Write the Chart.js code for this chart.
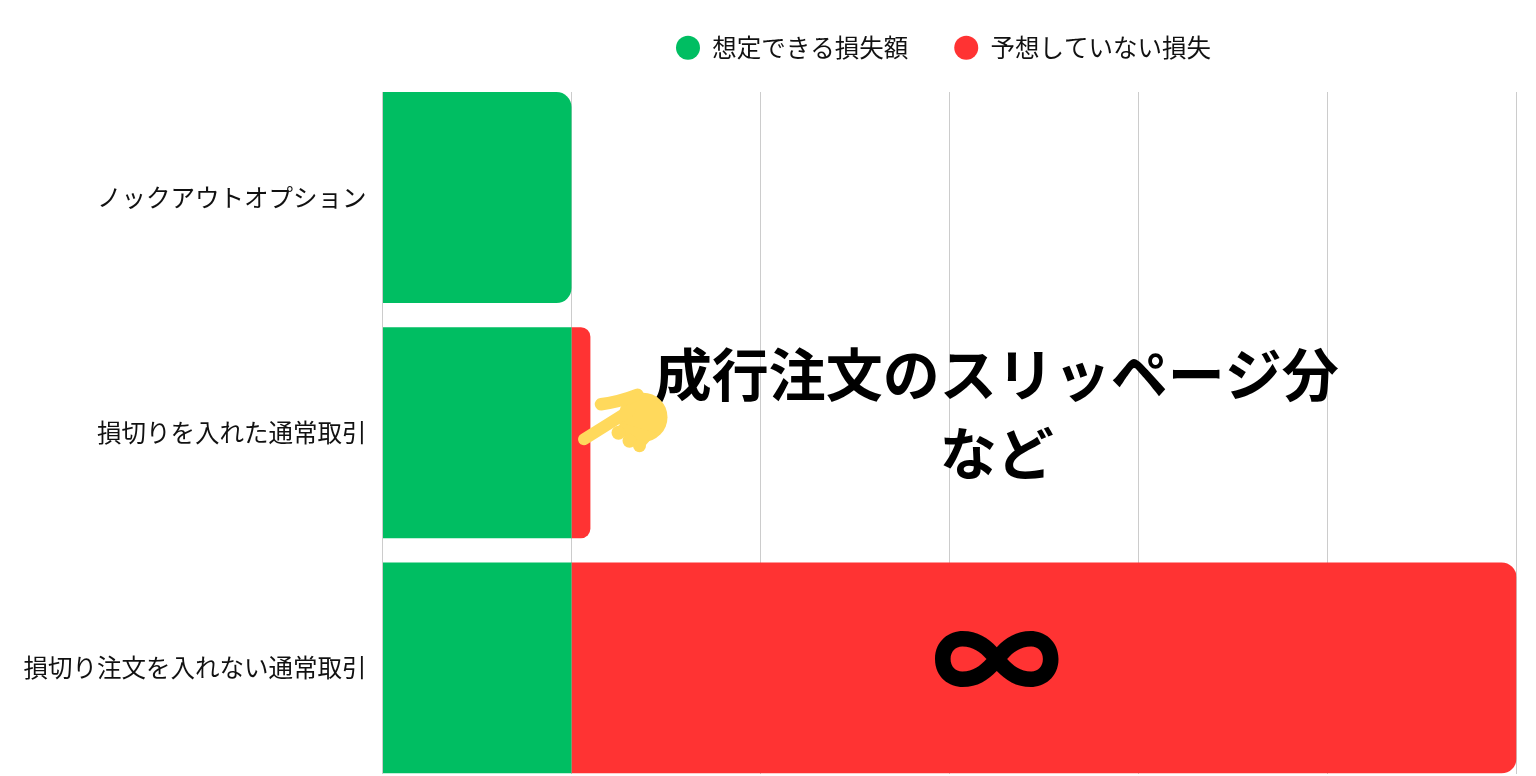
<!DOCTYPE html>
<html lang="ja"><head><meta charset="utf-8">
<style>html,body{margin:0;padding:0;background:#fff}canvas{display:block}</style>
<script src="https://cdn.jsdelivr.net/npm/chart.js@4"></script>
</head><body><canvas id="c" width="1536" height="776"></canvas>
<script>
const categories = ['ノックアウトオプション','損切りを入れた通常取引','損切り注文を入れない通常取引'];
const rows = [0,1,2];
const expectedLoss = [1,1,1];
const unexpectedLoss = [0,0.1,5];
const seriesNames = ['想定できる損失額','予想していない損失'];
const noteLines = ['成行注文のスリッページ分','など'];
const infinityLabel = '∞';
const GREEN = '#00BE62', RED = '#FF3333', FONT = '"Noto Sans CJK JP","Noto Sans CJK SC",sans-serif';
const R = 15;
const right = {topLeft:0,bottomLeft:0,topRight:R,bottomRight:R};
const square = {topLeft:0,bottomLeft:0,topRight:0,bottomRight:0};

const overlay = {
  id:'overlay',
  afterLayout(chart){ const l=chart.legend; l.top = -10.5; l.left -= 6; l.right -= 6; },
  afterDatasetsDraw(chart){
    const {ctx,scales:{x,y}} = chart;
    ctx.save();
    ctx.fillStyle='#000'; ctx.textAlign='center'; ctx.textBaseline='middle';
    ctx.font='700 57px '+FONT;
    ctx.fillText(noteLines[0],x.getPixelForValue(3.25),y.getPixelForValue(0.751));
    ctx.fillText(noteLines[1],x.getPixelForValue(3.25),y.getPixelForValue(1.087));
    ctx.font='900 130px '+FONT;
    ctx.textBaseline='alphabetic';
    const m = ctx.measureText(infinityLabel);
    const cy = y.getPixelForValue(1.964);
    ctx.fillText(infinityLabel,x.getPixelForValue(3.25),cy+(m.actualBoundingBoxAscent-m.actualBoundingBoxDescent)/2);
    // pointing hand, anchored to the tip of the small red bar
    const ox = x.getPixelForValue(1), oy = y.getPixelForValue(1);
    const px = dx=>ox+dx, py = dy=>oy+dy;
    ctx.fillStyle=ctx.strokeStyle='#FFD95C'; ctx.lineCap='round';
    ctx.beginPath(); ctx.arc(px(71.5),py(-15.5),24.5,0,Math.PI*2); ctx.fill();
    ctx.beginPath(); ctx.moveTo(px(50),py(-10)); ctx.lineTo(px(85),py(0)); ctx.lineTo(px(72),py(15)); ctx.lineTo(px(60),py(10)); ctx.lineTo(px(44),py(-4)); ctx.closePath(); ctx.fill();
    ctx.lineWidth=12.5;
    ctx.beginPath(); ctx.moveTo(px(29.5),py(-28.5)); ctx.quadraticCurveTo(px(48),py(-31),px(66),py(-38)); ctx.stroke();
    ctx.lineWidth=12;
    ctx.beginPath(); ctx.moveTo(px(12.5),py(6.5)); ctx.lineTo(px(58),py(-22)); ctx.stroke();
    [[47,0,7],[58,8,7],[68,13,6.5]].forEach(([dx,dy,r])=>{ctx.beginPath();ctx.arc(px(dx),py(dy),r,0,Math.PI*2);ctx.fill();});
    ctx.restore();
  }
};

new Chart(document.getElementById('c'),{
  type:'bar',
  data:{datasets:[
    {label:seriesNames[0],data:rows.map(i=>({x:expectedLoss[i],y:i})),backgroundColor:GREEN,
     borderRadius:c=>unexpectedLoss[c.dataIndex]===0?right:square,borderSkipped:false,inflateAmount:0,barThickness:211},
    {label:seriesNames[1],data:rows.map(i=>({x:unexpectedLoss[i],y:i})),backgroundColor:RED,
     borderRadius:right,borderSkipped:false,inflateAmount:0,barThickness:211}
  ]},
  options:{
    indexAxis:'y',responsive:false,animation:false,
    layout:{padding:{left:0,right:19.5,top:11.5,bottom:2.5}},
    plugins:{
      tooltip:{enabled:false},
      legend:{position:'top',align:'center',fullSize:false,
        labels:{usePointStyle:true,pointStyle:'circle',boxHeight:17,pointStyleWidth:24,padding:46,color:'#111',
          font:{family:FONT,size:24.5}}}
    },
    scales:{
      x:{type:'linear',stacked:true,min:0,max:6,
        afterFit(s){s.height=0;s.paddingLeft=s.paddingRight=0;},
        ticks:{display:false,stepSize:1},
        border:{display:false},
        grid:{color:'#CCCCCC',lineWidth:1,drawTicks:false}},
      y:{type:'linear',stacked:true,reverse:true,offset:false,bounds:'data',min:-0.449,max:2.449,
        afterFit(s){s.width=382.5;s.paddingTop=s.paddingBottom=0;},
        afterBuildTicks(s){s.ticks=rows.map(v=>({value:v}));},
        ticks:{autoSkip:false,padding:16,color:'#111',font:{family:FONT,size:24.5},callback:v=>categories[v]},
        border:{display:false},
        grid:{display:false,drawTicks:false}}
    }
  },
  plugins:[overlay]
});
</script></body></html>
